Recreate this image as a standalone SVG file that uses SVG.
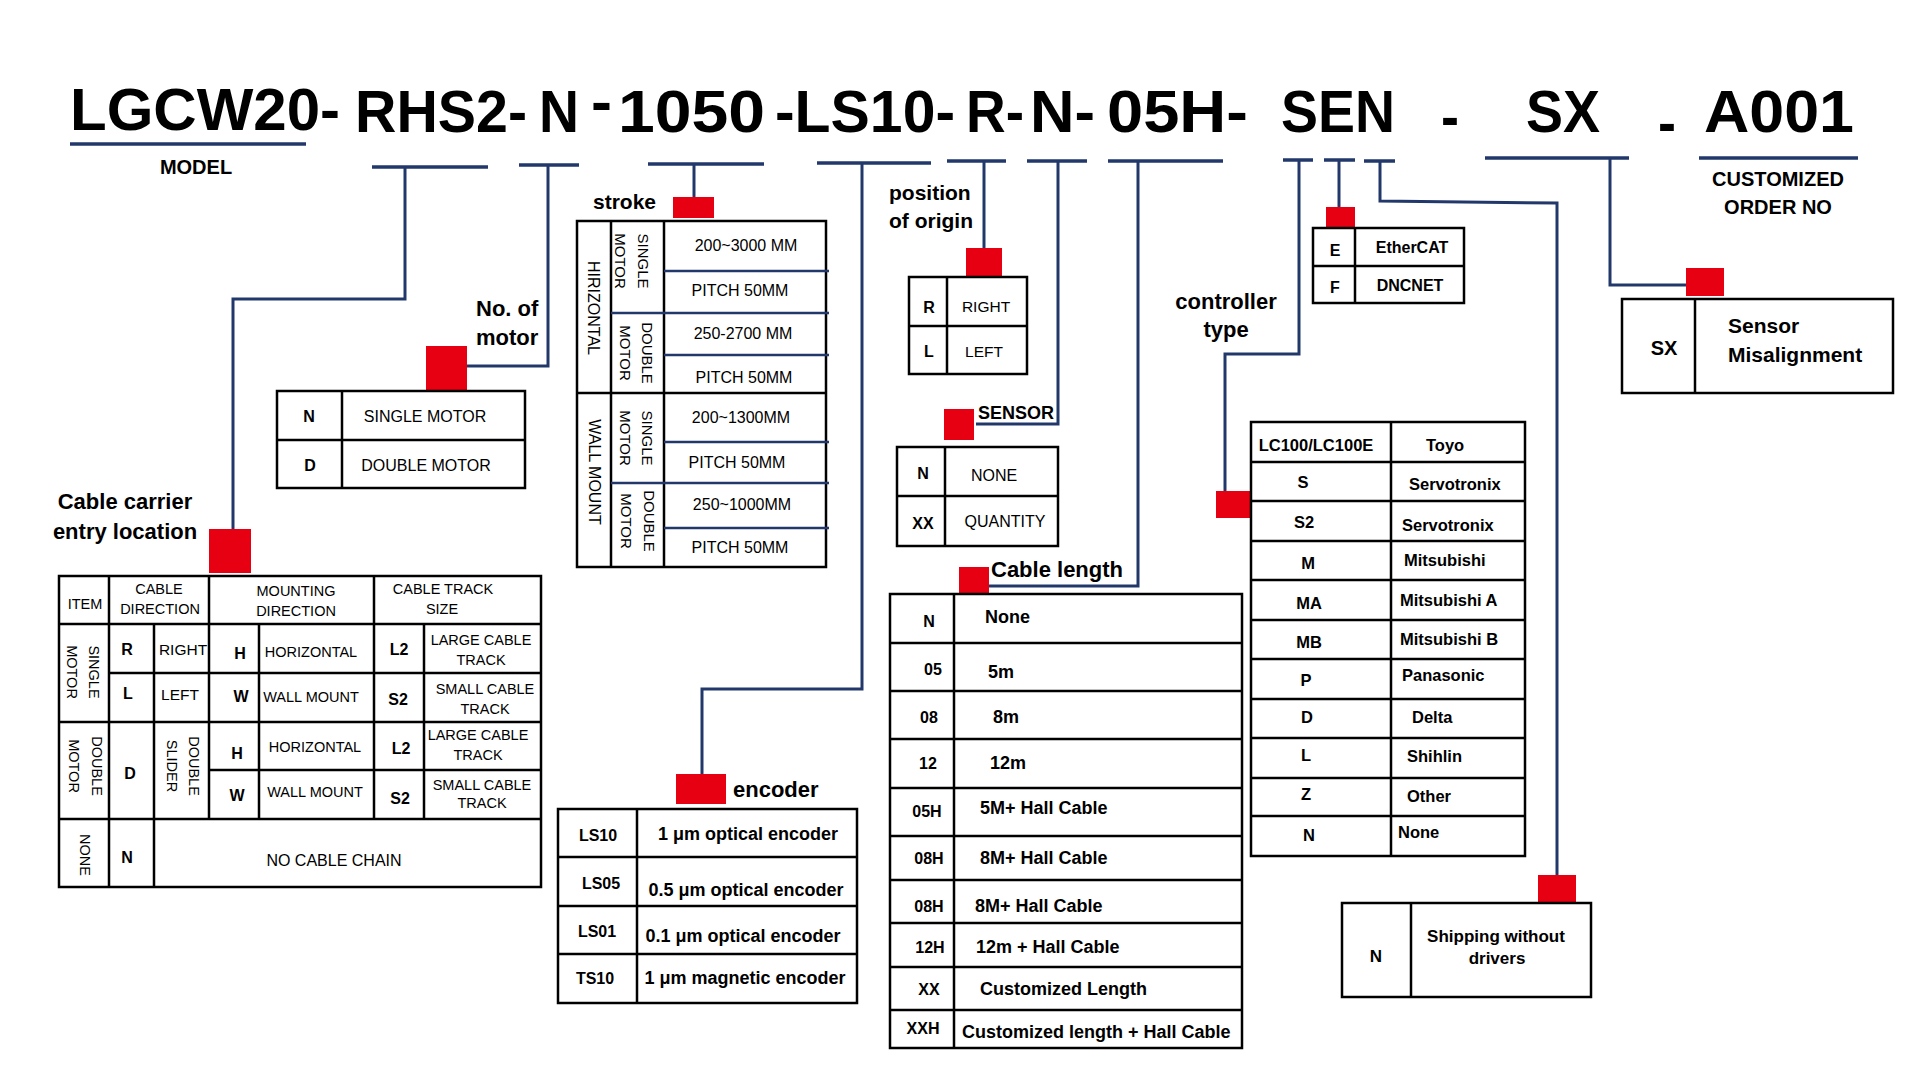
<svg xmlns="http://www.w3.org/2000/svg" width="1920" height="1080" viewBox="0 0 1920 1080">
<style>
text{font-family:"Liberation Sans",Arial,sans-serif;fill:#000}
.t{font-size:60px;font-weight:bold}
.lbl{font-size:22px;font-weight:bold}
.cap{font-size:19px;font-weight:bold}
.c{font-size:16px;dominant-baseline:central;text-anchor:middle}
.s{font-size:14.5px;dominant-baseline:central;text-anchor:middle}
.k{font-size:16px;font-weight:bold;dominant-baseline:central;text-anchor:middle}
.b{font-size:18px;font-weight:bold;dominant-baseline:central}
.bm{font-size:16.5px;font-weight:bold;dominant-baseline:central}
.m{text-anchor:middle}
.tb{fill:none;stroke:#000;stroke-width:2.5}
.ln{stroke:#000;stroke-width:2.5;fill:none}
.nv{stroke:#22386b;stroke-width:3;fill:none}
.ul{stroke:#22386b;stroke-width:3.5;fill:none}
.red{fill:#e60012}
</style>
<rect width="1920" height="1080" fill="#fff"/>

<g id="title">
<text class="t" x="70" y="130" textLength="270" lengthAdjust="spacingAndGlyphs">LGCW20-</text>
<text class="t" x="355" y="132" textLength="172" lengthAdjust="spacingAndGlyphs">RHS2-</text>
<text class="t" x="539" y="132" textLength="40" lengthAdjust="spacingAndGlyphs">N</text>
<text class="t" x="591" y="122" textLength="21" lengthAdjust="spacingAndGlyphs">-</text>
<text class="t" x="618" y="132" textLength="147" lengthAdjust="spacingAndGlyphs">1050</text>
<text class="t" x="775" y="132" textLength="180" lengthAdjust="spacingAndGlyphs">-LS10-</text>
<text class="t" x="966" y="132" textLength="58" lengthAdjust="spacingAndGlyphs">R-</text>
<text class="t" x="1030" y="132" textLength="65" lengthAdjust="spacingAndGlyphs">N-</text>
<text class="t" x="1107" y="132" textLength="141" lengthAdjust="spacingAndGlyphs">05H-</text>
<text class="t" x="1281" y="132" textLength="114" lengthAdjust="spacingAndGlyphs">SEN</text>
<text class="t" x="1441" y="137" textLength="18" lengthAdjust="spacingAndGlyphs">-</text>
<text class="t" x="1526" y="132" textLength="74" lengthAdjust="spacingAndGlyphs">SX</text>
<text class="t" x="1658" y="143" textLength="18" lengthAdjust="spacingAndGlyphs">-</text>
<text class="t" x="1704" y="132" textLength="150" lengthAdjust="spacingAndGlyphs">A001</text>
</g>

<g id="model">
<line class="ul" x1="70" y1="144" x2="306" y2="144"/>
<text class="cap m" x="196" y="174" style="font-size:20px">MODEL</text>
</g>

<g id="order-no">
<line class="ul" x1="1699" y1="158" x2="1858" y2="158"/>
<text class="cap m" x="1778" y="186" style="font-size:20px">CUSTOMIZED</text>
<text class="cap m" x="1778" y="214" style="font-size:20px">ORDER NO</text>
</g>

<g id="connectors">
<line class="ul" x1="372" y1="167" x2="488" y2="167"/>
<polyline class="nv" points="405,167 405,299 233,299 233,529"/>
<line class="ul" x1="519" y1="165" x2="579" y2="165"/>
<polyline class="nv" points="548,165 548,366 467,366"/>
<line class="ul" x1="648" y1="164" x2="764" y2="164"/>
<polyline class="nv" points="694,164 694,197"/>
<line class="ul" x1="817" y1="163" x2="931" y2="163"/>
<polyline class="nv" points="862,163 862,689 702,689 702,774"/>
<line class="ul" x1="947" y1="161" x2="1006" y2="161"/>
<polyline class="nv" points="984,161 984,248"/>
<line class="ul" x1="1027" y1="161" x2="1087" y2="161"/>
<polyline class="nv" points="1058,161 1058,424 976,424"/>
<line class="ul" x1="1108" y1="161" x2="1223" y2="161"/>
<polyline class="nv" points="1138,161 1138,586 989,586"/>
<line class="ul" x1="1283" y1="160" x2="1313" y2="160"/>
<polyline class="nv" points="1299,160 1299,354 1225,354 1225,491"/>
<line class="ul" x1="1324" y1="160" x2="1355" y2="160"/>
<polyline class="nv" points="1339,160 1339,207"/>
<line class="ul" x1="1364" y1="161" x2="1395" y2="161"/>
<polyline class="nv" points="1380,161 1380,201 1557,203 1557,875"/>
<line class="ul" x1="1485" y1="158" x2="1629" y2="158"/>
<polyline class="nv" points="1610,158 1610,285 1686,285"/>
</g>

<g id="cable-carrier">
<text class="lbl m" x="125" y="509">Cable carrier</text>
<text class="lbl m" x="125" y="539">entry location</text>
<rect class="red" x="209" y="529" width="42" height="44"/>
<rect class="tb" x="59" y="576" width="482" height="311"/>
<path class="ln" d="M59,624H541M109,673H541M59,722H541M209,770H541M59,819H541M109,576V887M154,624V887M209,576V819M259,624V819M374,576V819M424,624V819"/>
<text class="s" x="85" y="604">ITEM</text>
<text class="s" x="159" y="589">CABLE</text>
<text class="s" x="160" y="609">DIRECTION</text>
<text class="s" x="296" y="591">MOUNTING</text>
<text class="s" x="296" y="611">DIRECTION</text>
<text class="s" x="443" y="589">CABLE TRACK</text>
<text class="s" x="442" y="609">SIZE</text>
<text class="s" transform="translate(94,672) rotate(90)">SINGLE</text>
<text class="s" transform="translate(72,672) rotate(90)">MOTOR</text>
<text class="s" transform="translate(97,766) rotate(90)">DOUBLE</text>
<text class="s" transform="translate(74,766) rotate(90)">MOTOR</text>
<text class="s" transform="translate(194,766) rotate(90)">DOUBLE</text>
<text class="s" transform="translate(172,766) rotate(90)">SLIDER</text>
<text class="s" transform="translate(85,855) rotate(90)">NONE</text>
<text class="k" x="127" y="649">R</text>
<text class="s" x="183" y="649" style="font-size:15.5px">RIGHT</text>
<text class="k" x="128" y="693">L</text>
<text class="s" x="180" y="694" style="font-size:15.5px">LEFT</text>
<text class="k" x="130" y="773">D</text>
<text class="k" x="127" y="857">N</text>
<text class="k" x="240" y="653">H</text>
<text class="k" x="241" y="696">W</text>
<text class="k" x="237" y="753">H</text>
<text class="k" x="237" y="795">W</text>
<text class="s" x="311" y="652">HORIZONTAL</text>
<text class="s" x="311" y="697">WALL MOUNT</text>
<text class="s" x="315" y="747">HORIZONTAL</text>
<text class="s" x="315" y="792">WALL MOUNT</text>
<text class="k" x="399" y="649">L2</text>
<text class="k" x="398" y="699">S2</text>
<text class="k" x="401" y="748">L2</text>
<text class="k" x="400" y="798">S2</text>
<text class="s" x="481" y="640">LARGE CABLE</text>
<text class="s" x="481" y="660">TRACK</text>
<text class="s" x="485" y="689">SMALL CABLE</text>
<text class="s" x="485" y="709">TRACK</text>
<text class="s" x="478" y="735">LARGE CABLE</text>
<text class="s" x="478" y="755">TRACK</text>
<text class="s" x="482" y="785">SMALL CABLE</text>
<text class="s" x="482" y="803">TRACK</text>
<text class="c" x="334" y="860">NO CABLE CHAIN</text>
</g>

<g id="motor">
<text class="lbl" x="476" y="316">No. of</text>
<text class="lbl" x="476" y="345">motor</text>
<rect class="red" x="426" y="346" width="41" height="44"/>
<rect class="tb" x="277" y="391" width="248" height="97"/>
<path class="ln" d="M342,391V488M277,440H525"/>
<text class="k" x="309" y="416">N</text>
<text class="c" x="425" y="416">SINGLE MOTOR</text>
<text class="k" x="310" y="465">D</text>
<text class="c" x="426" y="465">DOUBLE MOTOR</text>
</g>

<g id="stroke">
<text class="lbl" x="593" y="209" style="font-size:21px">stroke</text>
<rect class="red" x="673" y="197" width="41" height="21"/>
<rect class="tb" x="577" y="221" width="249" height="346"/>
<path class="ln" d="M611,221V567M664,221V567M577,393H826"/>
<path class="nv" d="M664,271H829M611,313H829M664,355H829M664,442H829M611,483H829M664,528H829" style="stroke-width:2.5"/>
<text class="c" transform="translate(593,308) rotate(90)">HIRIZONTAL</text>
<text class="c" transform="translate(594,472) rotate(90)">WALL MOUNT</text>
<text class="c" transform="translate(643,261) rotate(90)" style="font-size:15px">SINGLE</text>
<text class="c" transform="translate(620,261) rotate(90)" style="font-size:15px">MOTOR</text>
<text class="c" transform="translate(647,353) rotate(90)" style="font-size:15px">DOUBLE</text>
<text class="c" transform="translate(625,353) rotate(90)" style="font-size:15px">MOTOR</text>
<text class="c" transform="translate(647,438) rotate(90)" style="font-size:15px">SINGLE</text>
<text class="c" transform="translate(625,438) rotate(90)" style="font-size:15px">MOTOR</text>
<text class="c" transform="translate(649,521) rotate(90)" style="font-size:15px">DOUBLE</text>
<text class="c" transform="translate(626,521) rotate(90)" style="font-size:15px">MOTOR</text>
<text class="c" x="746" y="245">200~3000 MM</text>
<text class="c" x="740" y="290">PITCH 50MM</text>
<text class="c" x="743" y="333">250-2700 MM</text>
<text class="c" x="744" y="377">PITCH 50MM</text>
<text class="c" x="741" y="417">200~1300MM</text>
<text class="c" x="737" y="462">PITCH 50MM</text>
<text class="c" x="742" y="504">250~1000MM</text>
<text class="c" x="740" y="547">PITCH 50MM</text>
</g>

<g id="encoder">
<rect class="red" x="676" y="774" width="50" height="30"/>
<text class="lbl" x="733" y="797">encoder</text>
<rect class="tb" x="558" y="809" width="299" height="194"/>
<path class="ln" d="M637,809V1003M558,857H857M558,906H857M558,954H857"/>
<text class="k" x="598" y="835">LS10</text>
<text class="k" x="601" y="883">LS05</text>
<text class="k" x="597" y="931">LS01</text>
<text class="k" x="595" y="978">TS10</text>
<text class="b m" x="748" y="834">1 μm optical encoder</text>
<text class="b m" x="746" y="890">0.5 μm optical encoder</text>
<text class="b m" x="743" y="936">0.1 μm optical encoder</text>
<text class="b m" x="745" y="978">1 μm magnetic encoder</text>
</g>

<g id="position-of-origin">
<text class="lbl" x="889" y="200" style="font-size:21px">position</text>
<text class="lbl" x="889" y="228" style="font-size:21px">of origin</text>
<rect class="red" x="966" y="248" width="36" height="28"/>
<rect class="tb" x="909" y="277" width="118" height="97"/>
<path class="ln" d="M947,277V374M909,326H1027"/>
<text class="k" x="929" y="307">R</text>
<text class="c" x="986" y="306" style="font-size:15.5px">RIGHT</text>
<text class="k" x="929" y="351">L</text>
<text class="c" x="984" y="351" style="font-size:15.5px">LEFT</text>
</g>

<g id="sensor">
<rect class="red" x="944" y="409" width="30" height="31"/>
<text x="978" y="419" style="font-size:18px;font-weight:bold">SENSOR</text>
<rect class="tb" x="897" y="447" width="161" height="99"/>
<path class="ln" d="M945,447V546M897,496H1058"/>
<text class="k" x="923" y="473">N</text>
<text class="c" x="994" y="475">NONE</text>
<text class="k" x="923" y="523">XX</text>
<text class="c" x="1005" y="521">QUANTITY</text>
</g>

<g id="cable-length">
<rect class="red" x="959" y="567" width="30" height="26"/>
<text class="lbl" x="991" y="577">Cable length</text>
<rect class="tb" x="890" y="594" width="352" height="454"/>
<path class="ln" d="M954,594V1048M890,643H1242M890,691H1242M890,739H1242M890,788H1242M890,836H1242M890,880H1242M890,923H1242M890,967H1242M890,1010H1242"/>
<text class="k" x="929" y="621">N</text>
<text class="k" x="933" y="669">05</text>
<text class="k" x="929" y="717">08</text>
<text class="k" x="928" y="763">12</text>
<text class="k" x="927" y="811">05H</text>
<text class="k" x="929" y="858">08H</text>
<text class="k" x="929" y="906">08H</text>
<text class="k" x="930" y="947">12H</text>
<text class="k" x="929" y="989">XX</text>
<text class="k" x="923" y="1028">XXH</text>
<text class="b" x="985" y="617">None</text>
<text class="b" x="988" y="672">5m</text>
<text class="b" x="993" y="717">8m</text>
<text class="b" x="990" y="763">12m</text>
<text class="b" x="980" y="808">5M+ Hall Cable</text>
<text class="b" x="980" y="858">8M+ Hall Cable</text>
<text class="b" x="975" y="906">8M+ Hall Cable</text>
<text class="b" x="976" y="947">12m + Hall Cable</text>
<text class="b" x="980" y="989">Customized Length</text>
<text class="b" x="962" y="1032">Customized length + Hall Cable</text>
</g>

<g id="controller-type">
<text class="lbl m" x="1226" y="309">controller</text>
<text class="lbl m" x="1226" y="337">type</text>
<rect class="red" x="1216" y="491" width="35" height="27"/>
<rect class="tb" x="1251" y="422" width="274" height="434"/>
<path class="ln" d="M1391,422V856M1251,462H1525M1251,501H1525M1251,541H1525M1251,580H1525M1251,620H1525M1251,659H1525M1251,699H1525M1251,738H1525M1251,778H1525M1251,816H1525"/>
<text class="bm m" x="1316" y="445">LC100/LC100E</text>
<text class="bm m" x="1303" y="482">S</text>
<text class="bm m" x="1304" y="522">S2</text>
<text class="bm m" x="1308" y="563">M</text>
<text class="bm m" x="1309" y="603">MA</text>
<text class="bm m" x="1309" y="642">MB</text>
<text class="bm m" x="1306" y="680">P</text>
<text class="bm m" x="1307" y="717">D</text>
<text class="bm m" x="1306" y="755">L</text>
<text class="bm m" x="1306" y="794">Z</text>
<text class="bm m" x="1309" y="835">N</text>
<text class="bm" x="1426" y="445">Toyo</text>
<text class="bm" x="1409" y="484">Servotronix</text>
<text class="bm" x="1402" y="525">Servotronix</text>
<text class="bm" x="1404" y="560">Mitsubishi</text>
<text class="bm" x="1400" y="600">Mitsubishi A</text>
<text class="bm" x="1400" y="639">Mitsubishi B</text>
<text class="bm" x="1402" y="675">Panasonic</text>
<text class="bm" x="1412" y="717">Delta</text>
<text class="bm" x="1407" y="756">Shihlin</text>
<text class="bm" x="1407" y="796">Other</text>
<text class="bm" x="1398" y="832">None</text>
</g>

<g id="fieldbus">
<rect class="red" x="1326" y="207" width="29" height="22"/>
<rect class="tb" x="1313" y="228" width="151" height="75"/>
<path class="ln" d="M1355,228V303M1313,266H1464"/>
<text class="k" x="1335" y="250">E</text>
<text class="k" x="1412" y="247">EtherCAT</text>
<text class="k" x="1335" y="287">F</text>
<text class="k" x="1410" y="285">DNCNET</text>
</g>

<g id="sensor-misalignment">
<rect class="red" x="1686" y="268" width="38" height="28"/>
<rect class="tb" x="1622" y="299" width="271" height="94"/>
<path class="ln" d="M1695,299V393"/>
<text class="b m" x="1664" y="348" style="font-size:20px">SX</text>
<text x="1728" y="333" style="font-size:21px;font-weight:bold">Sensor</text>
<text x="1728" y="362" style="font-size:21px;font-weight:bold">Misalignment</text>
</g>

<g id="shipping">
<rect class="red" x="1538" y="875" width="38" height="27"/>
<rect class="tb" x="1342" y="903" width="249" height="94"/>
<path class="ln" d="M1411,903V997"/>
<text class="b m" x="1376" y="956" style="font-size:17px">N</text>
<text class="m" x="1496" y="942" style="font-size:17px;font-weight:bold">Shipping without</text>
<text class="m" x="1497" y="964" style="font-size:17px;font-weight:bold">drivers</text>
</g>
</svg>
